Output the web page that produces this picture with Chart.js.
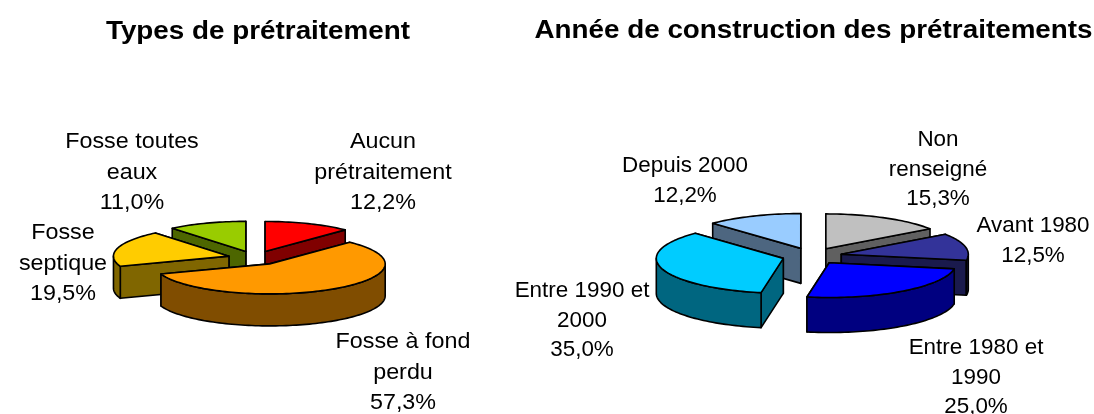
<!DOCTYPE html>
<html lang="fr">
<head>
<meta charset="utf-8">
<title>Prétraitements</title>
<script src="https://cdn.jsdelivr.net/npm/chart.js@4/dist/chart.umd.js"></script>
<style>
html,body{margin:0;padding:0;background:#fff;width:1094px;height:414px;overflow:hidden}
canvas{position:absolute;top:0}
#c1{left:0}
#c2{left:510px}
</style>
</head>
<body>
<canvas id="c1" width="516" height="414"></canvas>
<canvas id="c2" width="607" height="414"></canvas>
<script>
const typeTitle = "Types de prétraitement";
const typeCategories = [["Aucun","prétraitement"],["Fosse à fond","perdu"],["Fosse","septique"],["Fosse toutes","eaux"]];
const typeValues = [12.2, 57.3, 19.5, 11.0];
const typeTop = ["#ff0000","#ff9900","#ffcc00","#99cc00"];
const typeSide = ["#800000","#804d00","#806600","#4d6600"];

const yearTitle = "Année de construction des prétraitements";
const yearCategories = [["Non","renseigné"],["Avant 1980"],["Entre 1980 et","1990"],["Entre 1990 et","2000"],["Depuis 2000"]];
const yearValues = [15.3, 12.5, 25.0, 35.0, 12.2];
const yearTop = ["#c0c0c0","#333399","#0000ff","#00ccff","#99ccff"];
const yearSide = ["#606060","#1a1a4d","#000080","#006680","#4d6680"];

const TITLE_STRETCH = 1.05;
const FONT = '"Liberation Sans", Arial, sans-serif';

const pie3d = {
  id: 'pie3d',
  beforeDraw(chart) {
    const c = chart.ctx, m = chart.width / 2;
    c.save(); c.translate(m, 0); c.scale(TITLE_STRETCH, 1); c.translate(-m, 0);
  },
  beforeDatasetsDraw(chart, args, o) {
    const c = chart.ctx;
    c.restore();
    const meta = chart.getDatasetMeta(0);
    const k = o.tilt, d = o.explode, dz = o.depth;
    const cx = o.cx - o.originX, cy = o.cy;
    const slices = meta.data.map((el, i) => ({el, i, mid: (el.startAngle + el.endAngle) / 2}));
    slices.sort((a, b) => Math.sin(a.mid) - Math.sin(b.mid));
    const trace = pts => { c.beginPath(); pts.forEach((p, n) => n ? c.lineTo(p[0], p[1]) : c.moveTo(p[0], p[1])); c.closePath(); };
    const paint = (pts, fill) => {
      trace(pts);
      if (fill) { c.fillStyle = fill; c.fill(); }
      c.strokeStyle = '#000'; c.lineWidth = o.line; c.lineJoin = 'round'; c.stroke();
    };
    for (const s of slices) {
      const el = s.el, r = el.outerRadius;
      const ox = cx + d * Math.cos(s.mid), oy = cy + k * d * Math.sin(s.mid);
      const rim = (a, z) => [ox + r * Math.cos(a), oy + k * r * Math.sin(a) + z];
      const side = o.side[s.i];
      const faces = [el.startAngle, el.endAngle].sort((p, q) => Math.sin(p) - Math.sin(q));
      for (const a of faces) {
        paint([[ox, oy], rim(a, 0), rim(a, dz), [ox, oy + dz]], side);
      }
      for (const base of [-2 * Math.PI, 0, 2 * Math.PI]) {
        const lo = Math.max(el.startAngle, base), hi = Math.min(el.endAngle, base + Math.PI);
        if (lo >= hi) continue;
        const n = Math.ceil((hi - lo) / 0.03), top = [], bottom = [];
        for (let j = 0; j <= n; j++) {
          const a = lo + (hi - lo) * j / n;
          top.push(rim(a, 0)); bottom.unshift(rim(a, dz));
        }
        paint(top.concat(bottom), side);
      }
      c.save();
      c.translate(ox, oy); c.scale(1, k); c.translate(-el.x, -el.y);
      el.draw(c);
      c.restore();
      const n = Math.ceil((el.endAngle - el.startAngle) / 0.03), edge = [[ox, oy]];
      for (let j = 0; j <= n; j++) edge.push(rim(el.startAngle + (el.endAngle - el.startAngle) * j / n, 0));
      paint(edge, null);
    }
    // slice labels
    const cats = chart.data.labels, vals = chart.data.datasets[0].data;
    c.fillStyle = '#000';
    c.font = o.fontSize + 'px ' + FONT;
    c.textAlign = 'center';
    c.textBaseline = 'alphabetic';
    cats.forEach((cat, i) => {
      const lines = cat.concat([vals[i].toFixed(1).replace('.', ',') + '%']);
      const x = o.labelX[i] - o.originX;
      lines.forEach((t, n) => {
        c.save();
        c.translate(x, o.labelY[i] + n * o.lineGap);
        c.scale(o.labelStretch, 1);
        c.fillText(t, 0, 0);
        c.restore();
      });
    });
    return false;
  }
};

function makeChart(id, title, labels, values, top, opts) {
  return new Chart(document.getElementById(id), {
    type: 'pie',
    data: { labels, datasets: [{ data: values, backgroundColor: top, borderWidth: 0, offset: 0 }] },
    options: {
      responsive: false,
      animation: false,
      radius: opts.radius,
      events: [],
      plugins: {
        legend: { display: false },
        tooltip: { enabled: false },
        title: {
          display: true, text: title, color: '#000',
          font: { family: FONT, size: 26.5, weight: 'bold' },
          padding: { top: opts.titleTop, bottom: 10 }
        },
        pie3d: opts
      }
    },
    plugins: [pie3d]
  });
}

makeChart('c1', typeTitle, typeCategories, typeValues, typeTop, {
  radius: 115.5, originX: 0, cx: 255, cy: 258, tilt: 0.26, explode: 27, depth: 32, line: 1.6,
  side: typeSide, fontSize: 22, lineGap: 30.5, labelStretch: 1.06, titleTop: 16,
  labelX: [383, 403, 63, 132], labelY: [148, 348, 239, 148]
});
makeChart('c2', yearTitle, yearCategories, yearValues, yearTop, {
  radius: 127, originX: 510, cx: 812, cy: 256, tilt: 0.274, explode: 30, depth: 35, line: 1.6,
  side: yearSide, fontSize: 22, lineGap: 29.5, labelStretch: 1.02, titleTop: 15,
  labelX: [938, 1033, 976, 582, 685], labelY: [146, 232, 354, 297, 172]
});
</script>
</body>
</html>
